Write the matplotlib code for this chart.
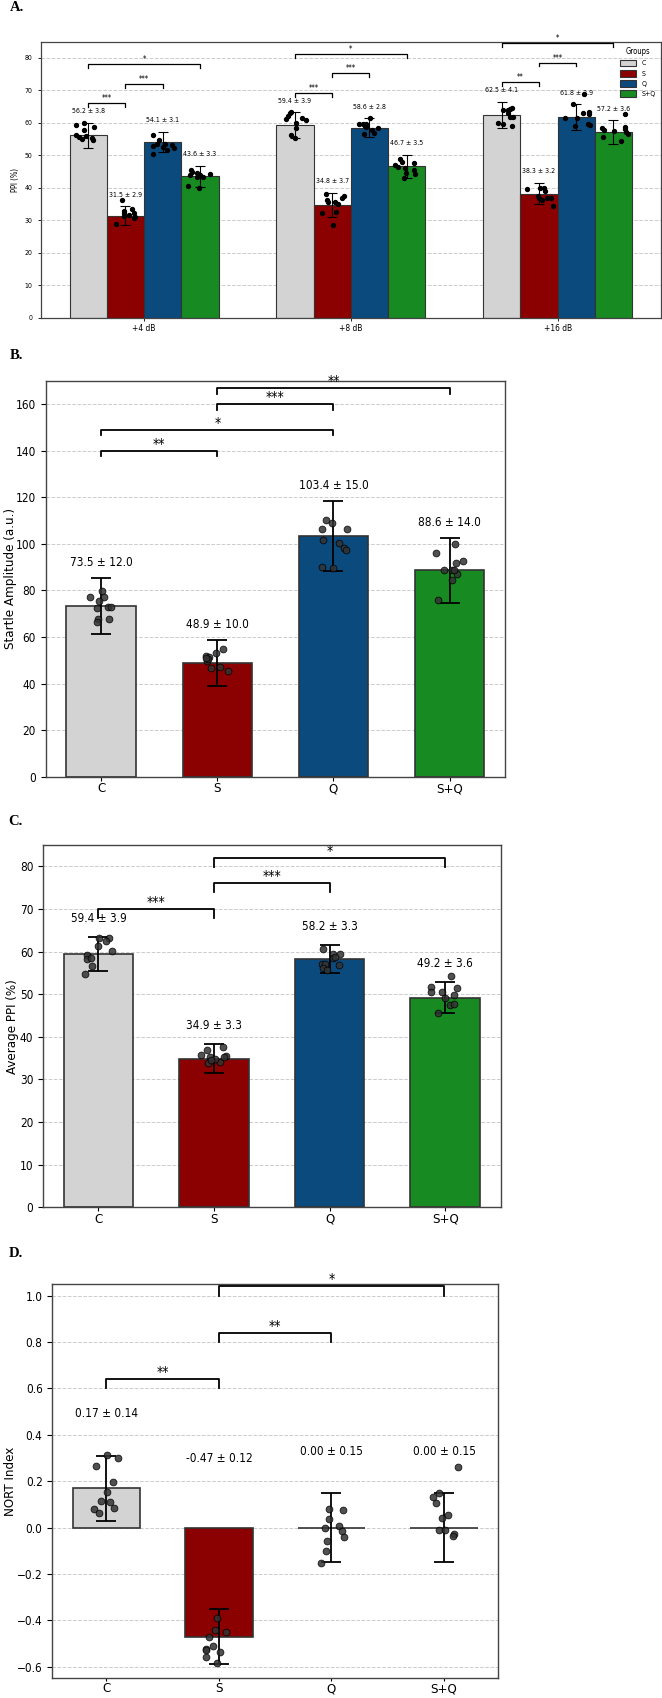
import numpy as np
import matplotlib.pyplot as plt

plt.rcParams['font.family'] = ['DejaVu Sans']
plt.rcParams['font.stretch'] = 'condensed'

groups = ['C', 'S', 'Q', 'S+Q']
colors = ['#d3d3d3', '#8b0000', '#0b4a7d', '#178a22']

# ---- A: PPI per prepulse level ----
levels = ['+4 dB', '+8 dB', '+16 dB']
ppi_mean = [[56.2, 31.5, 54.1, 43.6],
            [59.4, 34.8, 58.6, 46.7],
            [62.5, 38.3, 61.8, 57.2]]
ppi_sd = [[3.8, 2.9, 3.1, 3.3],
          [3.9, 3.7, 2.8, 3.5],
          [4.1, 3.2, 3.9, 3.6]]
ppi_pts = [
    [[59.5, 60.1, 58.9, 57.9, 56.3, 55.8, 55.2, 56.0, 55.5, 54.9],
     [36.2, 29.0, 32.3, 31.4, 33.5, 32.2, 31.0, 31.8, 32.8, 30.8],
     [56.2, 54.8, 53.5, 52.9, 50.4, 52.7, 53.6, 51.8, 53.2, 52.3],
     [45.5, 44.1, 40.6, 44.7, 44.0, 43.3, 40.0, 44.3, 43.4, 45.0]],
    [[61.1, 62.2, 63.0, 63.3, 61.4, 61.0, 60.1, 58.6, 56.3, 55.3],
     [38.0, 36.3, 35.6, 35.8, 37.0, 37.4, 32.4, 28.6, 32.7, 35.0],
     [59.6, 59.6, 59.7, 59.0, 61.6, 58.7, 56.8, 58.4, 57.9, 56.5],
     [47.1, 48.9, 47.9, 46.6, 46.2, 47.8, 45.5, 44.5, 43.2, 44.2]],
    [[64.0, 64.0, 64.3, 64.6, 61.8, 61.9, 59.9, 59.7, 59.1, 63.0],
     [39.7, 39.9, 39.9, 39.1, 37.0, 36.3, 37.0, 36.8, 34.6, 37.6],
     [61.6, 65.8, 63.5, 62.8, 59.4, 59.1, 68.9, 63.0, 61.4, 59.6],
     [58.4, 55.8, 62.8, 58.9, 58.1, 56.6, 54.3, 57.9, 57.3, 57.6]],
]
ppi_jit = [
    [[-0.060, -0.023, 0.029, -0.023, -0.060, -0.044, -0.032, -0.011, 0.016, 0.024],
     [-0.018, -0.045, -0.008, -0.005, 0.032, 0.039, 0.045, 0.015, -0.005, 0.040],
     [-0.046, -0.017, -0.026, -0.048, -0.046, 0.002, 0.012, 0.021, 0.045, 0.053],
     [-0.042, -0.048, -0.056, -0.013, 0.000, 0.013, -0.005, 0.048, -0.013, -0.037]],
    [[-0.043, -0.033, -0.025, -0.020, 0.034, 0.054, 0.005, 0.007, -0.020, -0.001],
     [-0.032, -0.025, -0.020, 0.011, 0.045, 0.056, -0.051, 0.006, 0.020, 0.027],
     [-0.052, -0.031, -0.016, -0.023, 0.002, -0.019, 0.021, 0.042, 0.013, -0.027],
     [-0.058, -0.031, -0.023, -0.042, -0.006, 0.037, 0.034, -0.003, -0.015, 0.042]],
    [[0.004, 0.030, 0.039, 0.049, 0.041, 0.052, -0.016, 0.004, 0.049, 0.028],
     [-0.058, 0.006, 0.026, 0.030, -0.002, 0.013, 0.037, 0.058, 0.066, -0.006],
     [-0.053, -0.018, 0.063, 0.063, 0.068, -0.005, 0.039, 0.031, 0.006, 0.055],
     [-0.056, -0.052, 0.054, 0.054, 0.057, 0.069, 0.038, -0.044, 0.060, 0.004]],
]
ppi_sig = [
    [(0, 1, 66.0, '***'), (1, 2, 72.0, '***'), (0, 3, 78.0, '*')],
    [(0, 1, 69.3, '***'), (1, 2, 75.3, '***'), (0, 3, 81.3, '*')],
    [(0, 1, 72.6, '**'), (1, 2, 78.6, '***'), (0, 3, 84.6, '*')],
]

# ---- B: startle amplitude ----
startle_mean = [73.5, 48.9, 103.4, 88.6]
startle_sd = [12.0, 10.0, 15.0, 14.0]
startle_pts = [[77.0, 79.9, 77.3, 75.6, 72.4, 72.9, 73.1, 67.7, 66.4, 67.7],
               [51.9, 51.4, 49.5, 53.1, 54.9, 46.6, 47.1, 45.5, 50.5, 51.0],
               [110.1, 109.0, 106.5, 106.5, 101.5, 100.4, 98.2, 97.5, 90.3, 89.5],
               [100.0, 96.3, 91.8, 92.8, 88.6, 88.6, 87.2, 84.3, 76.0, 89.0]]
startle_jit = [[-0.097, 0.003, 0.026, -0.020, -0.034, 0.055, 0.084, -0.026, -0.034, 0.064],
               [-0.095, -0.075, -0.089, -0.011, 0.046, -0.054, 0.020, 0.092, -0.084, -0.101],
               [-0.062, -0.011, -0.102, 0.116, -0.088, 0.047, 0.091, 0.109, -0.102, -0.004],
               [0.047, -0.113, 0.059, 0.113, -0.051, 0.022, 0.066, 0.022, -0.098, 0.041]]
startle_sig = [(0, 1, 140, '**'), (0, 2, 149, '*'), (1, 2, 160, '***'), (1, 3, 167, '**')]

# ---- C: average PPI ----
avg_mean = [59.4, 34.9, 58.2, 49.2]
avg_sd = [3.9, 3.3, 3.3, 3.6]
avg_pts = [[63.2, 63.2, 62.5, 61.4, 60.2, 59.3, 58.2, 58.5, 56.7, 54.7],
           [36.9, 35.8, 35.2, 37.7, 35.5, 33.8, 34.2, 34.8, 35.2, 34.6],
           [60.7, 59.4, 59.5, 58.5, 57.1, 57.1, 56.8, 56.1, 55.6, 58.8],
           [54.3, 51.8, 50.6, 50.6, 51.4, 49.9, 49.2, 47.5, 47.7, 45.7]]
avg_jit = [[0.008, 0.092, 0.066, -0.006, 0.120, -0.101, -0.101, -0.064, -0.053, -0.116],
           [-0.062, -0.117, -0.036, 0.074, 0.102, -0.051, 0.048, 0.011, 0.084, -0.026],
           [-0.061, 0.026, 0.089, 0.031, -0.069, -0.041, 0.078, -0.055, -0.026, 0.046],
           [0.055, -0.118, -0.118, -0.031, 0.104, 0.078, -0.003, 0.041, 0.075, -0.061]]
avg_sig = [(0, 1, 70, '***'), (1, 2, 76, '***'), (1, 3, 82, '*')]

# ---- D: NORT index ----
nort_mean = [0.17, -0.47, 0.00, 0.00]
nort_sd = [0.14, 0.12, 0.15, 0.15]
nort_pts = [[0.311, 0.301, 0.267, 0.195, 0.153, 0.115, 0.108, 0.080, 0.063, 0.086],
            [-0.389, -0.449, -0.442, -0.474, -0.510, -0.525, -0.535, -0.560, -0.583, -0.530],
            [0.079, 0.074, 0.037, 0.000, 0.006, -0.015, -0.042, -0.058, -0.101, -0.155],
            [0.261, 0.151, 0.132, 0.106, 0.053, 0.043, -0.009, -0.009, -0.029, -0.036]]
nort_jit = [[0.009, 0.100, -0.095, 0.059, 0.005, -0.051, 0.029, -0.110, -0.068, 0.068],
            [-0.020, 0.060, -0.036, -0.089, -0.056, -0.116, 0.009, -0.116, -0.020, -0.118],
            [-0.024, 0.100, -0.021, -0.060, 0.065, 0.094, 0.107, -0.036, -0.051, -0.095],
            [0.122, -0.047, -0.100, -0.071, 0.033, -0.015, -0.047, 0.009, 0.089, 0.077]]
nort_sig = [(0, 1, 0.64, '**'), (1, 2, 0.84, '**'), (1, 3, 1.04, '*')]

W, H = 662, 1698
fig = plt.figure(figsize=(W / 100, H / 100), dpi=100)


def axes_px(left, top, right, bottom):
    return fig.add_axes([left / W, 1 - bottom / H, (right - left) / W, (bottom - top) / H])


def bracket(ax, x1, x2, h, tip, label, fs, lw):
    ax.plot([x1, x1, x2, x2], [h - tip, h, h, h - tip], color='black', lw=lw, clip_on=False, zorder=5)
    ax.text((x1 + x2) / 2, h, label, ha='center', va='bottom', fontsize=fs, clip_on=False)


def style_axes(ax, lw=1.0):
    ax.yaxis.grid(True, linestyle='--', color='#cccccc', lw=0.7)
    ax.set_axisbelow(True)
    for sp in ax.spines.values():
        sp.set_color('#444444')
        sp.set_linewidth(lw)


def group_panel(ax, means, sds, pts, jit, sig, tip, off_pt, fmt, ylabel, ylab_px):
    x = np.arange(len(groups))
    ax.bar(x, means, width=0.6, color=colors, edgecolor='#333333', linewidth=1.2, zorder=2)
    ax.errorbar(x, means, yerr=sds, fmt='none', ecolor='black', elinewidth=1.3,
                capsize=7, capthick=1.3, zorder=3)
    for i in range(len(groups)):
        ax.scatter(x[i] + np.array(jit[i]), pts[i], s=24, color='#333333', alpha=0.85,
                   edgecolor='black', linewidth=0.6, zorder=4)
        top = max(means[i], 0) + sds[i]
        ax.annotate(fmt.format(means[i], sds[i]), (x[i], top), xytext=(0, off_pt),
                    textcoords='offset points', ha='center', va='center', fontsize=8.5)
    for a, b, h, lab in sig:
        bracket(ax, a, b, h, tip, lab, 10, 1.3)
    ax.set_xticks(x)
    ax.set_xticklabels(groups, fontsize=9.5)
    ax.tick_params(axis='x', length=3, pad=1)
    ax.tick_params(axis='y', labelsize=8.5)
    ax.set_ylabel(ylabel, fontsize=9.5)
    # place the label's right edge at a fixed pixel column
    bb = ax.get_position()
    ax.yaxis.set_label_coords((ylab_px / W - bb.x0) / bb.width, 0.5)
    style_axes(ax)


# ---- panel A ----
axA = axes_px(40.7, 41.7, 661, 318)
bw = 0.18
for li in range(len(levels)):
    for gi in range(len(groups)):
        xc = li + (gi - 1.5) * bw
        axA.bar(xc, ppi_mean[li][gi], width=bw, color=colors[gi], edgecolor='#333333',
                linewidth=0.8, zorder=2, label=groups[gi] if li == 0 else None)
        axA.errorbar(xc, ppi_mean[li][gi], yerr=ppi_sd[li][gi], fmt='none', ecolor='black',
                     elinewidth=0.8, capsize=3.5, capthick=0.8, zorder=3)
        axA.scatter(xc + np.array(ppi_jit[li][gi]), ppi_pts[li][gi], s=8, color='black', zorder=4)
        axA.annotate(f'{ppi_mean[li][gi]:.1f} ± {ppi_sd[li][gi]:.1f}',
                     (xc, ppi_mean[li][gi] + ppi_sd[li][gi]), xytext=(0, 8.4),
                     textcoords='offset points', ha='center', va='center', fontsize=5)
    for a, b, h, lab in ppi_sig[li]:
        bracket(axA, li + (a - 1.5) * bw, li + (b - 1.5) * bw, h, 1.2, lab, 5.5, 0.9)
axA.set_xlim(-0.5, 2.5)
axA.set_ylim(0, 85)
axA.set_yticks(np.arange(0, 81, 10))
axA.set_xticks(range(len(levels)))
axA.set_xticklabels(levels, fontsize=6)
axA.tick_params(axis='y', labelsize=5, length=2.5, width=0.6)
axA.tick_params(axis='x', length=2.5, width=0.6, pad=2)
axA.set_ylabel('PPI (%)', fontsize=5.5, labelpad=3)
style_axes(axA, 0.9)
axA.legend(title='Groups', loc='upper right', frameon=False, fontsize=5, title_fontsize=5.5,
           handlelength=2.2, handleheight=1.1, labelspacing=0.5, borderaxespad=0.4)

# ---- panel B ----
axB = axes_px(45.6, 381, 505.3, 776.7)
group_panel(axB, startle_mean, startle_sd, startle_pts, startle_jit, startle_sig,
            2.4, 11, '{:.1f} ± {:.1f}', 'Startle Amplitude (a.u.)', 16.5)
axB.set_ylim(0, 170)
axB.set_yticks(np.arange(0, 161, 20))

# ---- panel C ----
axC = axes_px(43, 845, 500.6, 1207.3)
group_panel(axC, avg_mean, avg_sd, avg_pts, avg_jit, avg_sig,
            2.1, 13.5, '{:.1f} ± {:.1f}', 'Average PPI (%)', 19)
axC.set_ylim(0, 85)
axC.set_yticks(np.arange(0, 81, 10))

# ---- panel D ----
axD = axes_px(52.3, 1284, 498.1, 1678.3)
group_panel(axD, nort_mean, nort_sd, nort_pts, nort_jit, nort_sig,
            0.04, 30, '{:.2f} ± {:.2f}', 'NORT Index', 17.5)
axD.set_ylim(-0.65, 1.05)
axD.set_yticks(np.round(np.arange(-0.6, 1.01, 0.2), 1))
axD.tick_params(axis='x', length=2.5, pad=0.5)

# panel letters
for lab, (px, py) in zip(['A.', 'B.', 'C.', 'D.'],
                         [(10, 1), (10, 349), (8, 815), (9, 1247)]):
    fig.text(px / W, 1 - py / H, lab, fontfamily='Liberation Serif', fontweight='bold',
             fontsize=10.5, va='top', ha='left')

fig.savefig('out.png', dpi=100)
